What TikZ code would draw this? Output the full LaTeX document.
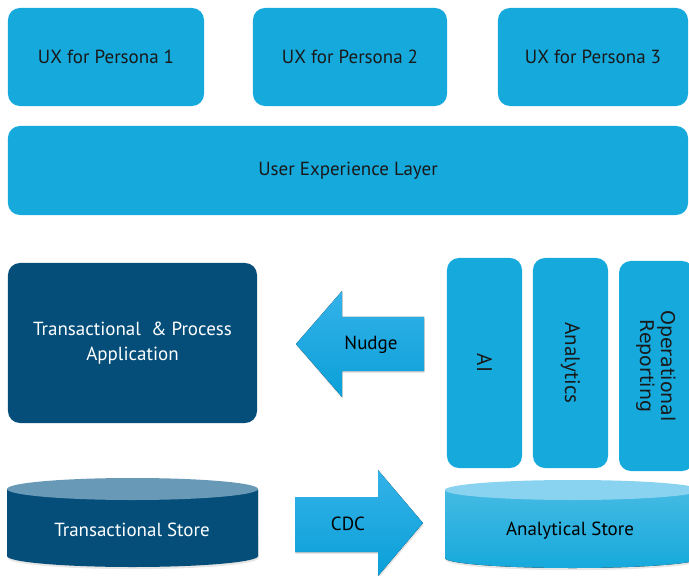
\documentclass[tikz,border=0pt]{standalone}
\usepackage{fontspec}
\setmainfont{PT Sans}
\newfontfamily\repfont{DejaVu Sans}
\usepackage{tikz}
\usetikzlibrary{shadows}
\definecolor{boxblue}{RGB}{22,169,220}
\definecolor{darkblue}{RGB}{5,78,122}
\definecolor{darktop}{RGB}{104,154,184}
\definecolor{lighttop}{RGB}{137,211,240}
\definecolor{arrowtop}{RGB}{52,178,232}
\definecolor{arrowbot}{RGB}{10,160,216}

\begin{document}
\begin{tikzpicture}[x=0.025cm, y=-0.025cm,
  bluebox/.style={fill=boxblue, rounded corners=0.3cm, font=\fontsize{13.5}{16}\selectfont, text=black!90, align=center, inner sep=0},
  darkbox/.style={fill=darkblue, rounded corners=0.3cm, font=\fontsize{13.5}{18}\selectfont, text=white, align=center, inner sep=0},
  label/.style={font=\fontsize{13.5}{16}\selectfont, inner sep=0},
  soft/.style={drop shadow={shadow xshift=0.5pt, shadow yshift=-1.5pt, opacity=0.2}}]
\useasboundingbox (0,0) rectangle (689,576);
%top row
\node[bluebox, minimum width=4.9cm, minimum height=2.45cm] (ux1) at (106,57) {UX for Persona 1};
\node[bluebox, minimum width=4.85cm, minimum height=2.45cm] (ux2) at (350,57) {UX for Persona 2};
\node[bluebox, minimum width=4.75cm, minimum height=2.45cm] (ux3) at (593,57) {UX for Persona 3};
\node[bluebox, minimum width=17cm, minimum height=2.225cm] (uxl) at (348,170.5) {User Experience Layer};
%middle row
\node[darkbox, minimum width=6.225cm, minimum height=4cm] (app) at (132.5,343) {Transactional \ \& Process\\Application};
\fill[soft, top color=arrowtop, bottom color=arrowbot] (424,317) -- (342,317) -- (342,291) -- (296,344) -- (342,397) -- (342,371) -- (424,371) -- cycle;
\node[label] (nudge) at (371,345) {Nudge};
\node[bluebox, rotate=-90, minimum width=5.25cm, minimum height=1.875cm, font=\fontsize{15}{17}\selectfont] (ai) at (484.5,363) {AI};
\node[bluebox, rotate=-90, minimum width=5.25cm, minimum height=1.875cm, font=\fontsize{15}{17}\selectfont] (an) at (570.5,363) {Analytics};
\node[bluebox, rotate=-90, minimum width=5.25cm, minimum height=1.875cm, font=\repfont\fontsize{13.5}{15}\selectfont] (rep) at (656.5,366) {Operational\\Reporting};
%stores
\fill[soft, darkblue] (7,489) -- (7,556) arc[start angle=180, end angle=360, x radius=3.1375cm, y radius=0.275cm] -- (258,489) -- cycle;
\fill[darktop] (132.5,489) ellipse[x radius=3.1375cm, y radius=0.275cm];
\node[label, text=white] (tstore) at (132,530) {Transactional Store};
\fill[soft, top color=arrowtop, bottom color=arrowbot] (295,497) -- (378,497) -- (378,470) -- (423,523) -- (378,576) -- (378,552) -- (295,552) -- cycle;
\node[label] (cdc) at (348,524) {CDC};
\fill[soft, top color=boxblue!80!white, bottom color=boxblue] (445,490) -- (445,558) arc[start angle=180, end angle=360, x radius=3.1875cm, y radius=0.25cm] -- (700,490) -- cycle;
\fill[lighttop] (572.5,490) ellipse[x radius=3.1875cm, y radius=0.25cm];
\node[label] (astore) at (570,531) {Analytical Store};
\end{tikzpicture}
\end{document}
